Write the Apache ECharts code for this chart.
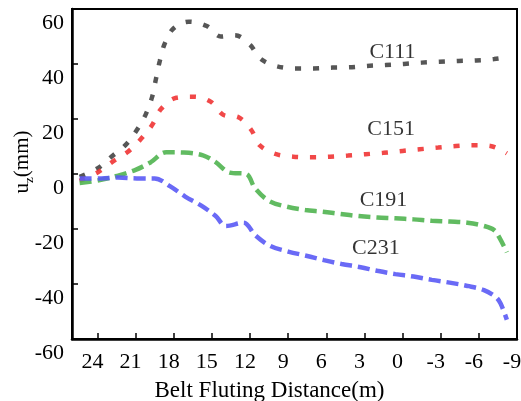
<!DOCTYPE html>
<html>
<head>
<meta charset="utf-8">
<script src="https://cdn.jsdelivr.net/npm/echarts@6/dist/echarts.min.js"></script>
<style>
  html, body { margin: 0; padding: 0; background: #fff; }
  #chart { width: 521px; height: 401px; }
</style>
</head>
<body>
<div id="chart"></div>
<script>
// Vertical displacement u_z (mm) against belt fluting distance (m)
const xTicks = [24, 21, 18, 15, 12, 9, 6, 3, 0, -3, -6, -9];
const yTicks = [-60, -40, -20, 0, 20, 40, 60];

const c111 = [[25.4,-1],[24,2],[22.9,6.3],[21.8,10.5],[20.9,16],[20.2,21.7],[19.7,28],[19.4,34.5],[19.1,41],[18.7,47.5],[18.0,53],[16.8,55.4],[15.4,53.8],[14.3,50],[13.2,50.5],[12.0,47],[11.2,42],[10.0,39.3],[8.4,38.4],[7.0,38.4],[5.5,38.7],[4.2,38.8],[2.8,39.3],[1.35,39.6],[-0.1,40],[-1.5,40.5],[-2.9,40.8],[-4.4,41.1],[-5.8,41.3],[-7.2,41.8],[-8.3,42.5]];
const c151 = [[25.4,-2.5],[23.9,0.8],[22.8,4.5],[21.6,8.1],[20.6,12.6],[19.7,17.8],[19.0,23.6],[17.8,27.7],[16.4,28.1],[15.1,26.3],[14.1,21.5],[12.9,20.6],[11.9,16],[11.25,10.5],[10.0,7.3],[8.6,6.3],[7.1,6.1],[5.7,6.3],[4.3,6.7],[2.9,7.2],[1.5,7.7],[0,8.4],[-1.35,9],[-2.8,9.6],[-4.2,10.2],[-5.6,10.5],[-6.9,10.2],[-8.2,7.5]];
const c191 = [[25.4,-3.3],[23.8,-2.2],[22.4,-0.6],[21.0,1.5],[19.8,4.3],[18.6,7.9],[17.2,7.8],[15.7,6.8],[14.7,4.3],[13.6,0.5],[12.3,0],[11.6,-5.2],[10.5,-9.8],[9.1,-11.9],[7.65,-13.1],[6.3,-13.7],[4.9,-14.5],[3.45,-15.3],[2.0,-15.8],[0.57,-16.1],[-0.87,-16.5],[-2.3,-17],[-3.7,-17.3],[-5.1,-17.7],[-6.4,-18.9],[-7.2,-20.4],[-7.65,-23.4],[-8.2,-28.5]];
const c231 = [[25.4,-1.6],[23.7,-1.6],[22.4,-1.3],[20.9,-1.6],[19.5,-1.6],[18.3,-4.4],[17.1,-8.2],[15.8,-11.6],[14.7,-15.3],[13.9,-18.9],[12.5,-17.7],[11.6,-22.2],[10.4,-26.2],[9.0,-28.2],[7.5,-29.8],[6.2,-31.3],[4.8,-32.7],[3.3,-33.9],[2.0,-35.2],[0.57,-36.4],[-0.87,-37.3],[-2.3,-38.5],[-3.7,-39.5],[-5.1,-40.7],[-6.4,-42.2],[-7.3,-44.6],[-7.7,-47],[-8.2,-53]];

const seriesNames = ['C111', 'C151', 'C191', 'C231'];
// where each curve's name sits, in data units
const nameAnchors = [[0.8, 44.4], [0.9, 16.4], [1.5, -9.5], [2.1, -26.9]];

const FONT = '"Liberation Serif", "Times New Roman", serif';

function curve(name, data, color, dash) {
  return {
    name: name,
    type: 'line',
    data: data,
    smooth: 0.35,
    showSymbol: false,
    symbol: 'none',
    lineStyle: { color: color, width: 4.5, type: dash, opacity: 0.9, cap: 'butt' },
    z: 3
  };
}

const chart = echarts.init(document.getElementById('chart'), null, { renderer: 'canvas' });

chart.setOption({
  animation: false,
  backgroundColor: '#fff',
  grid: {
    left: 72, top: 9, right: 4, bottom: 62,
    outerBoundsMode: 'none',
    containLabel: false,
    show: true, borderColor: '#000', borderWidth: 2, backgroundColor: 'transparent'
  },
  xAxis: {
    type: 'value',
    inverse: true,
    min: -9, max: 26, interval: 3,
    axisLine: { show: true, onZero: false, lineStyle: { color: '#000', width: 2.5 } },
    axisTick: { show: true, inside: true, length: 6, lineStyle: { color: '#000', width: 1.5 } },
    axisLabel: {
      color: '#000', fontFamily: FONT, fontSize: 22, margin: 12,
      padding: [0, 10, 0, 0],
      formatter: v => (xTicks.indexOf(v) >= 0 ? String(v) : '')
    },
    splitLine: { show: false },
    name: 'Belt Fluting Distance(m)',
    nameLocation: 'middle',
    nameGap: 40,
    nameTextStyle: { color: '#000', fontFamily: FONT, fontSize: 23, padding: [0, 50, 0, 0] }
  },
  yAxis: {
    type: 'value',
    min: -60, max: 60, interval: 20,
    axisLine: { show: true, onZero: false, lineStyle: { color: '#000', width: 2.5 } },
    axisTick: { show: true, inside: true, length: 6, lineStyle: { color: '#000', width: 1.5 } },
    axisLabel: {
      color: '#000', fontFamily: FONT, fontSize: 22, margin: 8,
      verticalAlign: 'top', lineHeight: 29,
      formatter: v => (yTicks.indexOf(v) >= 0 ? String(v) : '')
    },
    splitLine: { show: false }
  },
  graphic: [{
    type: 'text',
    x: 22, y: 162,
    rotation: Math.PI / 2,
    style: {
      text: '{a|u}{s|z}{a|(mm)}',
      align: 'center',
      verticalAlign: 'middle',
      rich: {
        a: { fontFamily: FONT, fontSize: 21, fill: '#000', verticalAlign: 'bottom' },
        s: { fontFamily: FONT, fontSize: 13, fill: '#000', verticalAlign: 'bottom', padding: [0, 0, -4, 0] }
      }
    }
  }],
  series: [
    curve('C111', c111, '#444444', [6, 12]),
    curve('C151', c151, '#f03434', [6, 12]),
    curve('C191', c191, '#50b450', [12, 6]),
    curve('C231', c231, '#5a5af5', [12, 6]),
    {
      type: 'scatter',
      data: nameAnchors.map((p, i) => ({ value: p, name: seriesNames[i] })),
      symbolSize: 0,
      silent: true,
      label: {
        show: true, position: 'inside',
        formatter: p => p.name,
        color: '#000', fontFamily: FONT, fontSize: 22
      },
      z: 5
    }
  ]
});
</script>
</body>
</html>
